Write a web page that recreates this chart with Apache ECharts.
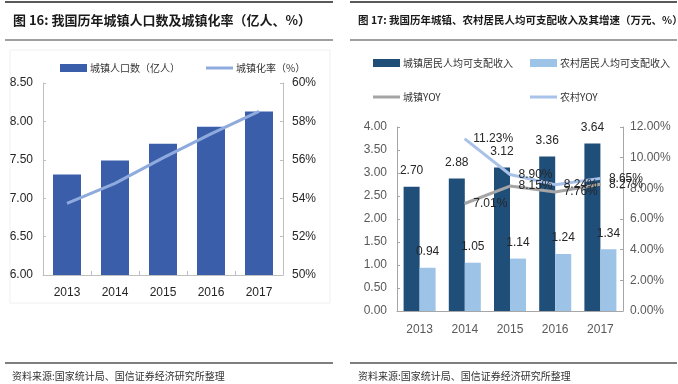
<!DOCTYPE html>
<html><head><meta charset="utf-8">
<script src="https://cdn.jsdelivr.net/npm/echarts@6/dist/echarts.min.js"></script>
<style>html,body{margin:0;padding:0;background:#fff}#c{width:678px;height:384px}</style>
</head><body><div id="c"></div>
<script>
// ---- data ----
const years = ['2013','2014','2015','2016','2017'];
const urbanPop = [7.31, 7.49, 7.71, 7.93, 8.13];           // 亿人
const urbanRate = [53.73, 54.77, 56.10, 57.35, 58.52];     // %
const urbanIncome = [2.70, 2.88, 3.12, 3.36, 3.64];        // 万元
const ruralIncome = [0.94, 1.05, 1.14, 1.24, 1.34];        // 万元
const urbanYoY = ['-', 7.01, 8.15, 7.76, 8.27];            // %
const ruralYoY = ['-', 11.23, 8.90, 8.24, 8.65];           // %
const title1 = '图 16: 我国历年城镇人口数及城镇化率（亿人、%）';
const title2 = '图 17: 我国历年城镇、农村居民人均可支配收入及其增速（万元、%）';
const source = '资料来源:国家统计局、国信证券经济研究所整理';

const NUM = "'Liberation Sans Narrow','Arial Narrow','Liberation Sans',sans-serif";
const CJK = "'Noto Sans CJK SC',sans-serif";
const cBar1 = '#3B5EAB', cLine1 = '#8FAADC';
const cBar2 = '#1F4E79', cBar3 = '#9DC3E6', cGray = '#A5A5A5', cLine2 = '#A9C2EA';

const chart = echarts.init(document.getElementById('c'), null, {renderer:'canvas'});

function legendOne(name, x, y, icon){
  return {
    data:[{name:name, icon: icon}], left:x, top:y, itemWidth:27, itemHeight: icon==='rect'?8:3,
    padding:0, itemGap:0,
    textStyle:{fontFamily:CJK, fontSize:10, color:'#333', padding:[0,0,0,-2]},
    selectedMode:false
  };
}
const LINEICON = 'path://M0,0H27V3H0Z';
const fmtPct = p => (typeof p.value === 'number') ? p.value.toFixed(2) + '%' : '';
const fmtNum = p => (typeof p.value === 'number') ? p.value.toFixed(2) : '';

const option = {
  animation:false,
  backgroundColor:'#fff',
  legend:[
    legendOne('城镇人口数（亿人）', 60, 63, 'rect'),
    legendOne('城镇化率（%）', 206, 63, LINEICON),
    legendOne('城镇居民人均可支配收入', 373, 58, 'rect'),
    legendOne('农村居民人均可支配收入', 530, 58, 'rect'),
    legendOne('城镇YOY', 373, 92, LINEICON),
    legendOne('农村YOY', 530, 92, LINEICON)
  ],
  grid:[
    {left:43, right:395, top:83, bottom:109},
    {left:397, right:55, top:127, bottom:73}
  ],
  xAxis:[
    {type:'category', gridIndex:0, data:years,
     axisLine:{lineStyle:{color:'#BFBFBF'}}, axisTick:{show:true, inside:true, length:4, lineStyle:{color:'#BFBFBF'}},
     axisLabel:{fontFamily:NUM, fontSize:12, color:'#262626', margin:12}},
    {type:'category', gridIndex:1, data:years,
     axisLine:{lineStyle:{color:'#A6A6A6'}}, axisTick:{show:false},
     axisLabel:{fontFamily:NUM, fontSize:12, color:'#595959', margin:13}}
  ],
  yAxis:[
    {type:'value', gridIndex:0, min:6, max:8.5, interval:0.5, splitLine:{show:false},
     axisLine:{show:true, lineStyle:{color:'#BFBFBF'}}, axisTick:{show:true, inside:true, length:3, lineStyle:{color:'#BFBFBF'}},
     axisLabel:{fontFamily:NUM, fontSize:12, color:'#262626', margin:10, formatter:v=>v.toFixed(2)}},
    {type:'value', gridIndex:0, min:50, max:60, interval:2, splitLine:{show:false}, position:'right',
     axisLine:{show:true, lineStyle:{color:'#BFBFBF'}}, axisTick:{show:true, inside:true, length:3, lineStyle:{color:'#BFBFBF'}},
     axisLabel:{fontFamily:NUM, fontSize:12, color:'#262626', margin:9, formatter:v=>v+'%'}},
    {type:'value', gridIndex:1, min:0, max:4, interval:0.5, splitLine:{show:false},
     axisLine:{show:true, lineStyle:{color:'#A6A6A6'}}, axisTick:{show:true, inside:true, length:3, lineStyle:{color:'#A6A6A6'}},
     axisLabel:{fontFamily:NUM, fontSize:12, color:'#595959', margin:10, formatter:v=>v.toFixed(2)}},
    {type:'value', gridIndex:1, min:0, max:12, interval:2, splitLine:{show:false}, position:'right',
     axisLine:{show:true, lineStyle:{color:'#A6A6A6'}}, axisTick:{show:true, inside:true, length:3, lineStyle:{color:'#A6A6A6'}},
     axisLabel:{fontFamily:NUM, fontSize:12, color:'#595959', margin:7, formatter:v=>v.toFixed(2)+'%'}}
  ],
  series:[
    {name:'城镇人口数（亿人）', type:'bar', xAxisIndex:0, yAxisIndex:0, data:urbanPop, barWidth:28,
     itemStyle:{color:cBar1}},
    {name:'城镇化率（%）', type:'line', xAxisIndex:0, yAxisIndex:1, data:urbanRate, symbol:'none',
     lineStyle:{color:cLine1, width:3}, itemStyle:{color:cLine1}},
    {name:'城镇居民人均可支配收入', type:'bar', xAxisIndex:1, yAxisIndex:2, data:urbanIncome, barWidth:16, barGap:'0%',
     itemStyle:{color:cBar2},
     label:{show:true, position:'top', distance:10, fontFamily:NUM, fontSize:12, color:'#262626', formatter:fmtNum}},
    {name:'农村居民人均可支配收入', type:'bar', xAxisIndex:1, yAxisIndex:2, data:ruralIncome, barWidth:16, barGap:'0%',
     itemStyle:{color:cBar3},
     label:{show:true, position:'top', distance:10, fontFamily:NUM, fontSize:12, color:'#262626', formatter:fmtNum}},
    {name:'城镇YOY', type:'line', xAxisIndex:1, yAxisIndex:3, data:urbanYoY, symbol:'circle', symbolSize:1, showSymbol:true, z:3,
     lineStyle:{color:cGray, width:3}, itemStyle:{color:cGray},
     labelLayout:{hideOverlap:false},
     label:{show:true, position:'right', distance:8, fontFamily:NUM, fontSize:12, color:'#262626', formatter:fmtPct}},
    {name:'农村YOY', type:'line', xAxisIndex:1, yAxisIndex:3, data:ruralYoY, symbol:'circle', symbolSize:1, showSymbol:true, z:3,
     lineStyle:{color:cLine2, width:3}, itemStyle:{color:cLine2},
     labelLayout:{hideOverlap:false},
     label:{show:true, position:'right', distance:8, fontFamily:NUM, fontSize:12, color:'#262626', formatter:fmtPct}}
  ],
  graphic:[
    {type:'line', shape:{x1:5,y1:2,x2:333,y2:2}, style:{stroke:'#595959', lineWidth:2}},
    {type:'line', shape:{x1:5,y1:40,x2:333,y2:40}, style:{stroke:'#7F7F7F', lineWidth:1.5}},
    {type:'line', shape:{x1:5,y1:363,x2:333,y2:363}, style:{stroke:'#7F7F7F', lineWidth:2}},
    {type:'line', shape:{x1:350,y1:2,x2:677,y2:2}, style:{stroke:'#595959', lineWidth:2}},
    {type:'line', shape:{x1:350,y1:40,x2:677,y2:40}, style:{stroke:'#7F7F7F', lineWidth:1.5}},
    {type:'line', shape:{x1:350,y1:363,x2:677,y2:363}, style:{stroke:'#7F7F7F', lineWidth:2}},
    {type:'rect', shape:{x:10,y:50,width:320,height:253}, style:{fill:null, stroke:'#F0F0F0', lineWidth:1}, z:-1},
    {type:'text', x:13, y:20, style:{text:title1, font:"bold 13px 'Noto Sans CJK SC'", fill:'#1a1a1a', verticalAlign:'middle'}},
    {type:'text', x:358, y:20, style:{text:title2, font:"bold 10.5px 'Noto Sans CJK SC'", fill:'#1a1a1a', verticalAlign:'middle'}},
    {type:'text', x:12, y:376, style:{text:source, font:"10px 'Noto Sans CJK SC'", fill:'#333', verticalAlign:'middle'}},
    {type:'text', x:358, y:376, style:{text:source, font:"10px 'Noto Sans CJK SC'", fill:'#333', verticalAlign:'middle'}}
  ]
};
chart.setOption(option);
</script></body></html>
